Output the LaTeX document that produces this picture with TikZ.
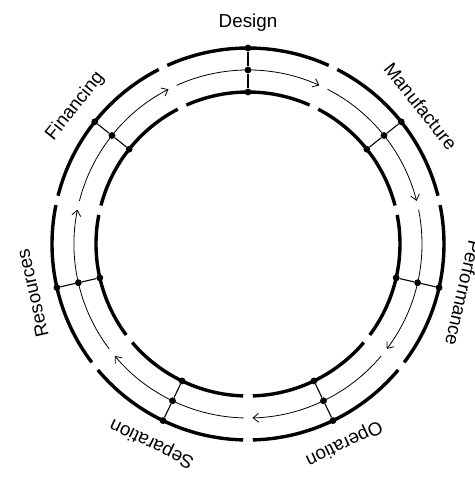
\documentclass[tikz,border=0pt]{standalone}
\usepackage{fontspec}
\setmainfont{Liberation Sans}
\usetikzlibrary{arrows.meta}
\begin{document}
\begin{tikzpicture}[
  ring/.style={line width=3.4pt},
  flow/.style={line width=0.8pt, -{Straight Barb[length=5.5pt,width=9pt,line width=0.8pt]}},
  spoke/.style={line width=1.1pt},
  dot/.style={circle, fill=black, inner sep=0pt, minimum size=6.8pt},
  lab/.style={font=\fontsize{18.8}{22}\selectfont, inner sep=0pt}
]
\useasboundingbox (-248pt,-235pt) rectangle (226pt,244pt);
\foreach \k/\name in {0/Design,1/Manufacture,2/Performance,3/Operation,4/Separation,5/Resources,6/Financing}{
  \pgfmathsetmacro\a{90-\k*360/7}
  \pgfmathsetmacro\s{\a+180/7}
  \pgfmathsetmacro\e{\a-180/7}
  \foreach \r in {196,152}{
    \pgfmathsetmacro\h{4.8/\r*180/pi}
    \pgfmathsetmacro\sa{\s-\h}
    \pgfmathsetmacro\ea{\e+\h}
    \draw[ring] (\sa:\r pt) arc[start angle=\sa, end angle=\ea, radius=\r pt];
  }
  \pgfmathsetmacro\hm{4.5/174*180/pi}
  \pgfmathsetmacro\sm{\s-\hm}
  \pgfmathsetmacro\em{\e+\hm}
  \draw[flow] (\sm:174pt) arc[start angle=\sm, end angle=\em, radius=174pt];
  \node[dot] (o\k) at (\a:196pt) {};
  \node[dot] (m\k) at (\a:174pt) {};
  \node[dot] (i\k) at (\a:152pt) {};
  \draw[spoke] (o\k) -- (m\k);
  \draw[spoke] (m\k) -- (i\k);
  \pgfmathsetmacro\rot{\a-90}
  \node[lab, rotate=\rot] (l\k) at (\a:221pt) {\name};
}
\end{tikzpicture}
\end{document}
